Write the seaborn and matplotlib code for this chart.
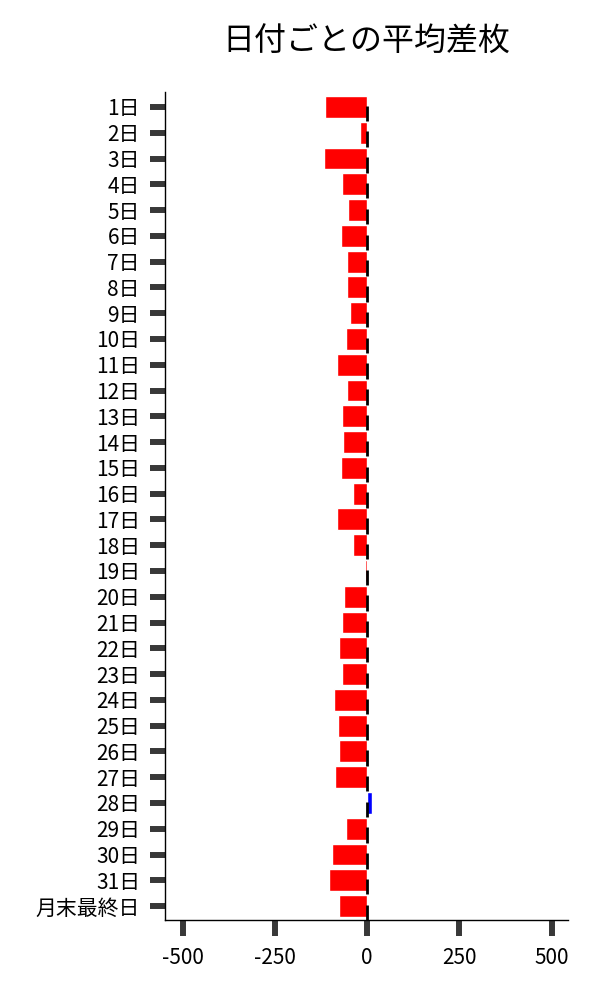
import matplotlib
matplotlib.use("Agg")
import matplotlib.pyplot as plt
import seaborn as sns
import pandas as pd
import numpy as np

days = [f"{i}日" for i in range(1, 32)] + ["月末最終日"]
diff = [-114, -19, -117, -67, -51, -70, -54, -54, -46, -57, -81,
        -54, -68, -65, -70, -38, -81, -38, -5, -62, -68, -76, -68,
        -91, -80, -75, -88, 14, -56, -96, -104, -77]
xticks = [-500, -250, 0, 250, 500]

sns.set_style("white")
plt.rcParams['font.family'] = ['Noto Sans CJK JP', 'DejaVu Sans']

df = pd.DataFrame({"day": days, "diff": diff})
palette = {d: ("#ff0000" if v < 0 else "#0000ff") for d, v in zip(days, diff)}

fig = plt.figure(figsize=(6, 10), dpi=100)
ax = fig.add_axes([0.275, 0.08, 0.672, 0.828])
sns.barplot(data=df, x="diff", y="day", hue="day", palette=palette,
            orient="h", width=0.85, legend=False, ax=ax, saturation=1)

idx = np.arange(len(days))
ax.vlines(np.zeros(len(days)), idx - 0.05, idx + 0.55, color="black", lw=2, zorder=3)

ax.set_xlim(-548, 545)
ax.set_ylim(len(days) - 0.46, -0.58)
ax.set_xticks(xticks)
ax.set_xticklabels([str(t) for t in xticks])
ax.set_xlabel("")
ax.set_ylabel("")
ax.set_title("日付ごとの平均差枚", fontsize=23, pad=30, color="black")

for s in ["top", "right"]:
    ax.spines[s].set_visible(False)
for s in ["left", "bottom"]:
    ax.spines[s].set_color("black")
    ax.spines[s].set_linewidth(1)

ax.tick_params(axis="y", length=11, width=4.3, color="#383838", labelsize=15,
               labelcolor="black", pad=7, left=True)
ax.tick_params(axis="x", length=11.5, width=4.3, color="#383838", labelsize=15,
               labelcolor="black", pad=8, bottom=True)

fig.savefig("out.png", dpi=100)
